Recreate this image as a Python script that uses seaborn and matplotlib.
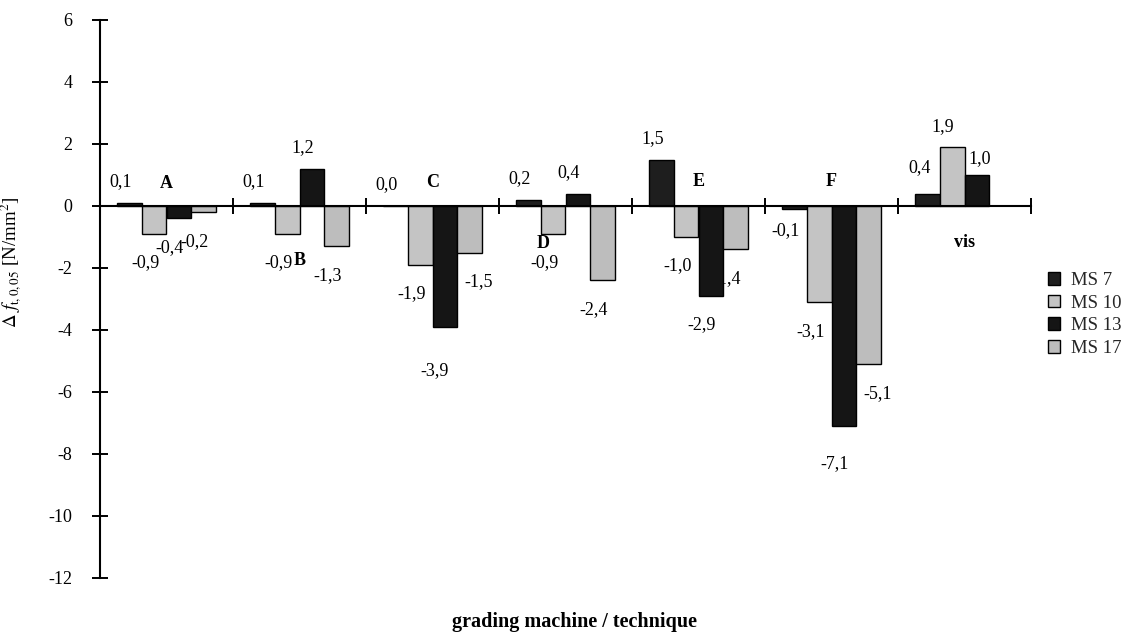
import numpy as np
import pandas as pd
import matplotlib
matplotlib.use("Agg")
import matplotlib.pyplot as plt
import seaborn as sns

# Change of characteristic bending strength per grading machine / technique
categories = ["A", "B", "C", "D", "E", "F", "vis"]
series = ["MS 7", "MS 10", "MS 13", "MS 17"]
ms7 = [0.1, 0.1, 0.0, 0.2, 1.5, -0.1, 0.4]
ms10 = [-0.9, -0.9, -1.9, -0.9, -1.0, -3.1, 1.9]
ms13 = [-0.4, 1.2, -3.9, 0.4, -2.9, -7.1, 1.0]
ms17 = [-0.2, -1.3, -1.5, -2.4, -1.4, -5.1, np.nan]
y_ticks = [6, 4, 2, 0, -2, -4, -6, -8, -10, -12]

colors = {"MS 7": "#1e1e1e", "MS 10": "#c4c4c4", "MS 13": "#151515", "MS 17": "#bdbdbd"}

sns.set_style("white")
plt.rcParams["font.family"] = ["Liberation Serif", "DejaVu Serif"]
plt.rcParams["mathtext.fontset"] = "stix"
plt.rcParams["axes.unicode_minus"] = False

rows = []
for name, vals in zip(series, [ms7, ms10, ms13, ms17]):
    for cat, v in zip(categories, vals):
        rows.append({"category": cat, "series": name, "value": v})
df = pd.DataFrame(rows).dropna()

W, H = 1142, 632
fig = plt.figure(figsize=(W / 100, H / 100), dpi=100)
ax = fig.add_axes([100 / W, 1 - 578 / H, (1031 - 100) / W, (578 - 20) / H])

sns.barplot(data=df, x="category", y="value", hue="series",
            order=categories, hue_order=series, palette=colors,
            saturation=1, width=0.74, edgecolor="black", linewidth=1.0,
            errorbar=None, ax=ax)

ax.set_xlim(-0.5, len(categories) - 0.5)
ax.set_ylim(-12, 6)

for side in ["top", "right"]:
    ax.spines[side].set_visible(False)
ax.spines["bottom"].set_position(("data", 0))
for side in ["left", "bottom"]:
    ax.spines[side].set_color("black")
    ax.spines[side].set_linewidth(1.5)

ax.set_xticks(np.arange(-0.5, len(categories), 1.0))
ax.tick_params(axis="x", bottom=True, direction="inout", length=12, width=1.4,
               color="black", labelbottom=False)
ax.set_yticks(y_ticks)
ax.set_yticklabels([str(t) for t in y_ticks])
ax.tick_params(axis="y", left=True, direction="inout", length=12, width=1.4,
               color="black", labelsize=13, pad=14, labelcolor="black")

ax.set_xlabel("")
ax.set_ylabel(r"$\Delta\ f_{\mathrm{t,0,05}}$ [N/mm$^2$]", fontsize=13.5, color="black")
ax.yaxis.set_label_coords((23 - 100) / (1031 - 100), 0.565)

fig.text(574 / W, 1 - 622 / H, "grading machine / technique", ha="center",
         va="center", fontweight="bold", fontsize=14.5, color="black")

# category names placed next to each group (x shift in groups, y in data units)
cat_label_pos = {"A": (0.0, 0.72), "B": (0.0, -1.75), "C": (0.0, 0.75),
                 "D": (-0.17, -1.2), "E": (0.0, 0.78), "F": (0.0, 0.78),
                 "vis": (0.0, -1.17)}
for i, cat in enumerate(categories):
    dx, y = cat_label_pos[cat]
    ax.text(i + dx, y, cat, ha="center", va="center", fontweight="bold",
            fontsize=13, color="black")

# value labels, offsets in pixels
label_offsets = {
    ("C", "MS 13"): (-10, -44),
    ("F", "MS 13"): (-9, -37),
    ("C", "MS 17"): (9, -29),
    ("F", "MS 17"): (9, -29),
    ("F", "MS 7"): (-9, -21),
    ("vis", "MS 13"): (3, 16),
    ("vis", "MS 7"): (-8, 26),
}
for ci, container in enumerate(ax.containers):
    name = series[ci]
    for bar in container:
        h = bar.get_height()
        if np.isnan(h):
            continue
        xc = bar.get_x() + bar.get_width() / 2
        cat = categories[int(round(xc))]
        default = (-9, 21) if h >= 0 else (-9, -29)
        ox, oy = label_offsets.get((cat, name), default)
        ax.annotate(f"{h:.1f}".replace(".", ","), xy=(xc, h),
                    xytext=(ox * 0.72, oy * 0.72), textcoords="offset points",
                    ha="center", va="center", fontsize=13, color="black",
                    zorder=0.5)

handles, labels = ax.get_legend_handles_labels()
ax.get_legend().remove()
fig.legend(handles, labels, loc="upper left",
           bbox_to_anchor=(1048 / W, 1 - 272 / H), frameon=False, fontsize=13.5,
           handlelength=0.65, handleheight=0.65, handletextpad=0.6,
           labelspacing=0.3, borderaxespad=0, borderpad=0)

fig.savefig("out.png", dpi=100, facecolor="white")
